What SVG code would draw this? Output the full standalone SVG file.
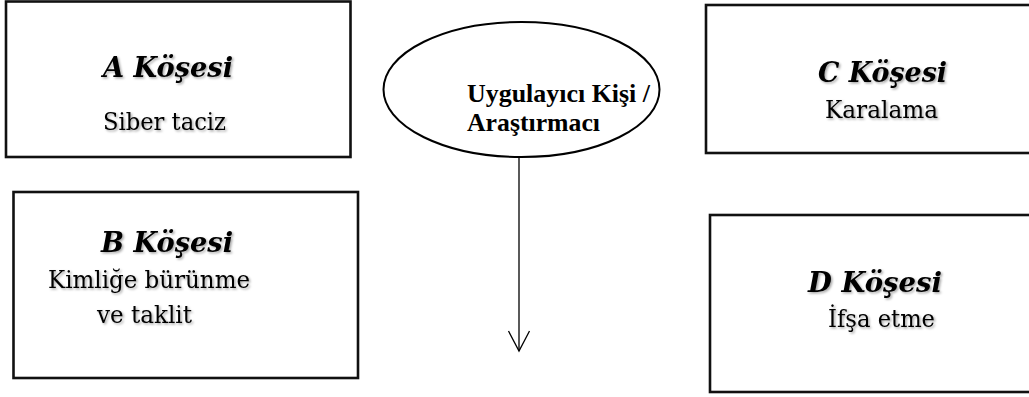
<svg xmlns="http://www.w3.org/2000/svg" width="1029" height="397" viewBox="0 0 1029 397">
<defs>
<style>
.box{fill:#fff;stroke:#111;stroke-width:2.6}
.ell{fill:#fff;stroke:#000;stroke-width:2}
.h{font-family:"DejaVu Serif","Liberation Serif",serif;font-weight:bold;font-style:italic;font-size:27px;fill:#000}
.t{font-family:"DejaVu Serif","Liberation Serif",serif;font-size:25px;fill:#000}
.e{font-family:"Liberation Serif",serif;font-weight:bold;font-size:25px;fill:#000}
.conn{stroke:#000;stroke-width:1.3;fill:none}
</style>
<filter id="sh" x="-10%" y="-30%" width="130%" height="170%">
<feDropShadow dx="1.5" dy="1.5" stdDeviation="1.2" flood-color="#000" flood-opacity="0.35"/>
</filter>
</defs>
<rect width="1029" height="397" fill="#fff"/>
<g id="nodeA">
<rect class="box" x="6" y="1.5" width="344.5" height="155.5"/>
<g filter="url(#sh)">
<text class="h" x="103" y="77" textLength="130" lengthAdjust="spacingAndGlyphs">A Köşesi</text>
<text class="t" x="103" y="130" textLength="123" lengthAdjust="spacingAndGlyphs">Siber taciz</text>
</g>
</g>
<g id="nodeB">
<rect class="box" x="13.5" y="192" width="344.5" height="186"/>
<g filter="url(#sh)">
<text class="h" x="101" y="252" textLength="132" lengthAdjust="spacingAndGlyphs">B Köşesi</text>
<text class="t" x="48" y="288" textLength="202" lengthAdjust="spacingAndGlyphs">Kimliğe bürünme</text>
<text class="t" x="97" y="323" textLength="95" lengthAdjust="spacingAndGlyphs">ve taklit</text>
</g>
</g>
<g id="nodeC">
<rect class="box" x="706" y="5" width="340" height="148"/>
<g filter="url(#sh)">
<text class="h" x="818" y="82" textLength="129" lengthAdjust="spacingAndGlyphs">C Köşesi</text>
<text class="t" x="825" y="118" textLength="113" lengthAdjust="spacingAndGlyphs">Karalama</text>
</g>
</g>
<g id="nodeD">
<rect class="box" x="710" y="215" width="340" height="177"/>
<g filter="url(#sh)">
<text class="h" x="808" y="292" textLength="134" lengthAdjust="spacingAndGlyphs">D Köşesi</text>
<text class="t" x="828" y="327" textLength="107" lengthAdjust="spacingAndGlyphs">İfşa etme</text>
</g>
</g>
<g id="nodeCenter">
<ellipse class="ell" cx="521.5" cy="89.5" rx="138" ry="67.5"/>
<text class="e" x="467" y="102" textLength="183" lengthAdjust="spacingAndGlyphs">Uygulayıcı Kişi /</text>
<text class="e" x="467" y="131" textLength="133" lengthAdjust="spacingAndGlyphs">Araştırmacı</text>
</g>
<g id="connectors">
<line class="conn" x1="519" y1="157" x2="519" y2="351"/>
<polyline class="conn" points="508.5,331 519,351 529.5,331"/>
</g>
</svg>
